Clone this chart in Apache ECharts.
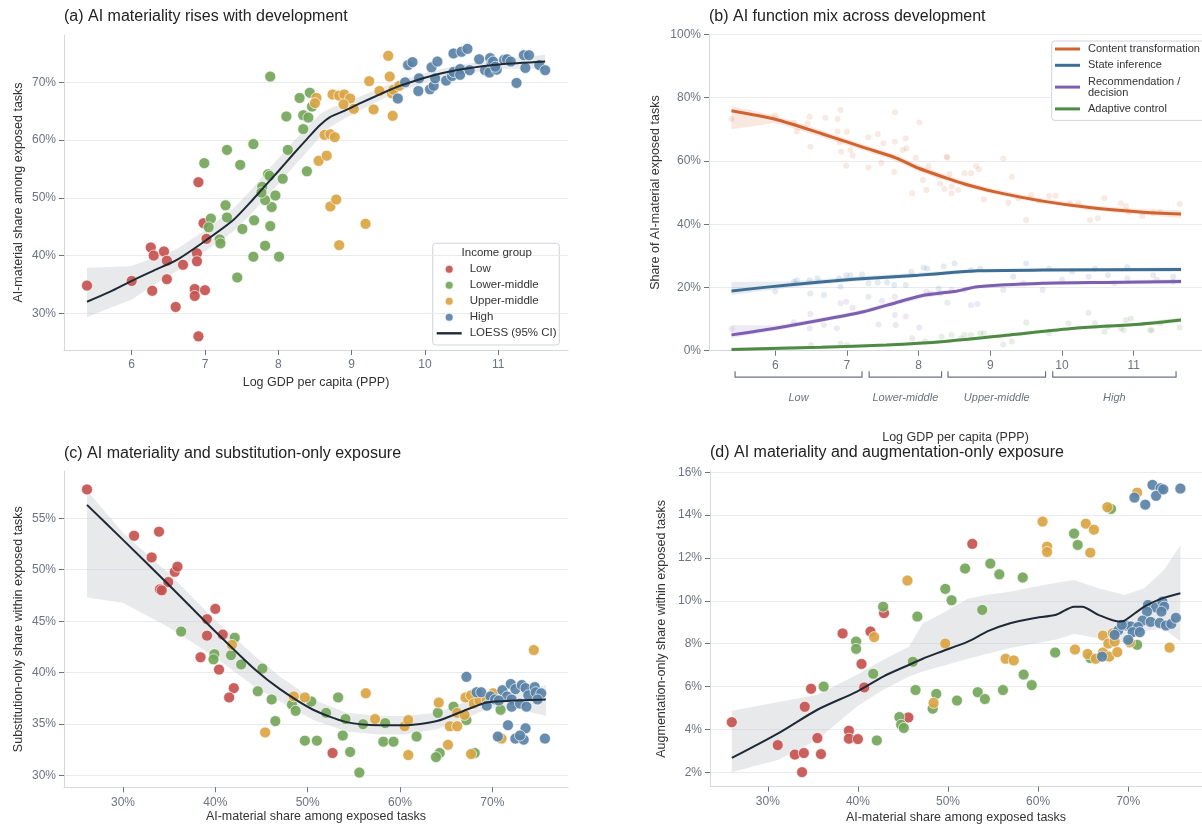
<!DOCTYPE html>
<html><head><meta charset="utf-8">
<script src="https://cdn.jsdelivr.net/npm/echarts@6/dist/echarts.min.js"></script>
<style>html,body{margin:0;padding:0;background:#fff}#c{width:1202px;height:827px}</style>
</head><body><div id="c"></div>
<script>
// ---------- DATA ----------
const groups = ['Low','Lower-middle','Upper-middle','High'];
// Panel (a): [log GDP pc, AI-material share %]
const aLow = [[5.39,34.8],[6.0,35.6],[6.26,41.4],[6.30,40.0],[6.44,40.7],[6.48,39.1],[6.28,33.9],[6.48,35.9],[6.60,31.1],[6.70,38.4],[6.89,40.4],[6.89,39.0],[6.86,34.2],[6.86,33.0],[7.0,34.0],[6.91,26.0],[6.98,45.6],[7.02,42.9],[6.91,52.7]];
const aLM = [[7.08,46.4],[7.05,44.9],[7.28,48.7],[7.30,46.6],[7.20,42.8],[7.21,42.1],[7.51,44.6],[7.67,46.1],[7.44,36.2],[7.66,39.8],[7.82,41.7],[7.89,45.1],[7.91,48.4],[7.82,49.6],[8.01,39.8],[7.89,71.0],[6.99,56.0],[7.30,58.3],[7.48,55.7],[7.66,59.3],[7.86,54.1],[7.88,53.8],[7.78,51.9],[7.77,50.9],[7.96,50.4],[8.06,53.3],[8.13,58.3],[8.39,54.6],[8.11,64.1],[8.34,61.9],[8.29,67.3],[8.43,68.2],[8.46,65.8],[8.34,64.3],[8.41,63.9]];
const aUM = [[8.52,67.3],[8.50,66.4],[8.74,67.9],[8.83,67.7],[8.90,67.9],[8.98,67.2],[8.89,66.2],[9.03,65.4],[8.63,60.9],[8.71,61.0],[8.77,60.5],[8.55,56.4],[8.66,57.3],[8.71,48.5],[8.79,49.7],[9.50,74.6],[9.52,71.0],[9.24,70.2],[9.38,68.5],[9.30,65.3],[9.56,64.2],[9.55,68.1],[9.57,68.7],[9.65,69.4],[8.83,41.8],[9.19,45.5]];
const aHigh = [[9.63,67.2],[9.73,70.0],[9.77,73.0],[9.83,73.5],[9.91,68.5],[9.92,70.7],[10.07,68.8],[10.12,69.4],[10.14,70.7],[10.09,72.6],[10.17,73.6],[10.29,70.3],[10.37,71.1],[10.39,71.8],[10.48,72.3],[10.48,71.3],[10.39,75.0],[10.50,75.3],[10.58,75.8],[10.61,72.1],[10.74,74.0],[10.82,72.1],[10.89,74.2],[10.91,73.3],[10.93,73.6],[10.88,71.7],[10.98,72.2],[10.96,72.7],[11.08,73.9],[11.12,74.0],[11.17,73.6],[11.25,69.9],[11.35,74.7],[11.42,74.7],[11.37,72.5],[11.56,73.0],[11.64,72.1]];
const aFitX = [5.39,5.7,6.0,6.3,6.61,7.02,7.39,7.66,7.8,8.0,8.2,8.4,8.57,8.71,8.89,9.12,9.4,9.66,10.11,10.57,11.02,11.64];
const aFit  = [32.0,33.7,35.6,37.4,39.2,42.7,46.2,49.8,51.8,54.6,57.5,60.3,62.6,64.0,65.0,66.4,68.0,69.4,71.2,72.4,73.1,73.6];
const aLo   = [29.3,30.9,32.4,34.9,37.3,40.9,44.2,47.6,49.7,52.4,55.3,58.1,60.5,62.3,63.6,65.2,67.0,68.5,70.4,71.6,72.3,72.4];
const aHi   = [37.9,38.0,38.2,39.6,41.1,44.5,48.2,51.8,54.0,56.8,59.7,62.4,64.5,65.5,66.4,67.6,69.0,70.3,72.0,73.2,73.9,74.8];

// Panel (b): function shares (%) vs log GDP pc
const functions = ['Content transformation','State inference','Recommendation /\ndecision','Adaptive control'];
const bCtX = [5.39,6.0,6.64,7.23,7.68,8.0,8.4,8.64,9.05,9.73,10.41,11.09,11.66];
const bCt  = [75.9,73.2,68.7,64.3,61.0,57.7,54.5,52.7,50.3,47.3,45.2,43.9,43.2];
const bCtLo= [70.0,72.0,67.6,63.3,60.0,56.6,53.5,51.8,49.5,46.5,44.4,43.0,42.0];
const bCtHi= [77.4,74.4,69.8,65.3,62.0,58.8,55.5,53.6,51.1,48.1,46.0,44.8,44.4];
const bSiX = [5.39,6.18,7.09,8.0,8.46,8.82,9.73,11.66];
const bSi  = [18.9,20.8,22.6,23.9,24.7,25.3,25.5,25.7];
const bSiLo= [17.6,19.9,21.9,23.2,24.1,24.8,25.0,25.0];
const bSiHi= [21.8,21.9,23.4,24.7,25.3,25.8,26.0,26.4];
const bRdX = [5.39,6.0,6.64,7.23,7.73,8.09,8.36,8.5,8.82,9.73,10.64,11.66];
const bRd  = [5.0,7.1,9.7,12.3,15.5,17.6,18.4,18.7,20.2,21.3,21.6,21.9];
const bRdLo= [4.0,6.3,9.0,11.6,14.7,16.8,17.7,18.1,19.6,20.7,21.0,21.1];
const bRdHi= [8.1,8.0,10.4,13.0,16.3,18.4,19.1,19.3,20.8,21.9,22.2,22.7];
const bAcX = [5.39,6.64,7.55,8.36,9.27,10.18,11.09,11.66];
const bAc  = [0.4,1.1,1.8,2.9,5.0,7.1,8.4,9.7];
const bAcLo= [0.0,0.6,1.3,2.4,4.5,6.6,7.8,8.9];
const bAcHi= [0.9,1.6,2.3,3.4,5.5,7.6,9.0,10.5];
const bCtPts = [[5.39,73.3],[6.0,74.4],[6.26,72.1],[6.30,69.3],[6.45,71.9],[6.48,74.0],[6.49,64.5],[6.70,73.7],[6.87,73.3],[6.91,76.1],[6.87,69.3],[7.0,69.3],[6.90,65.9],[6.92,62.9],[6.99,58.5],[7.05,63.5],[7.08,61.7],[7.30,67.5],[7.30,57.9],[7.43,68.5],[7.48,59.4],[7.51,65.6],[7.67,75.4],[7.67,66.1],[7.66,56.6],[7.78,63.5],[7.82,67.2],[7.83,64.0],[7.91,49.8],[7.96,61.0],[8.01,72.2],[8.06,54.0],[8.11,50.8],[8.14,58.4],[8.30,52.9],[8.36,51.1],[8.40,61.1],[8.43,55.9],[8.46,49.8],[8.39,61.3],[8.46,51.9],[8.55,50.8],[8.64,56.1],[8.73,56.1],[8.80,58.4],[8.84,57.4],[8.91,47.9],[9.18,60.8],[9.25,46.8],[9.30,55.0],[9.39,48.2],[9.50,41.3],[9.57,49.2],[9.68,47.4],[9.82,48.9],[9.91,49.0],[10.11,46.6],[10.23,46.6],[10.39,41.3],[10.50,41.9],[10.59,48.2],[10.82,46.6],[10.89,45.7],[10.93,43.9],[11.12,42.6],[11.27,43.6],[11.37,43.9],[11.64,46.4]];
const bSiPts = [[6.0,18.7],[6.26,21.8],[6.30,22.3],[6.48,22.3],[6.49,18.1],[6.59,22.9],[6.68,17.6],[6.89,22.9],[6.91,20.2],[6.99,23.9],[7.05,23.9],[7.21,24.1],[7.30,21.3],[7.30,17.1],[7.43,21.6],[7.56,21.6],[7.66,20.8],[7.82,20.8],[7.90,25.0],[8.07,26.2],[8.12,26.0],[8.28,19.7],[8.35,26.6],[8.50,27.6],[8.73,25.5],[8.86,26.0],[9.32,23.4],[9.50,27.6],[9.82,26.0],[10.14,25.0],[10.46,26.0],[10.64,23.9],[10.91,26.4],[11.27,23.9],[11.55,23.4]];
const bRdPts = [[5.39,6.9],[6.26,9.0],[6.49,11.6],[6.48,7.1],[6.68,8.1],[6.86,7.1],[6.91,15.0],[6.99,15.5],[7.08,13.6],[7.44,8.3],[7.49,15.8],[7.67,17.1],[7.67,11.3],[7.68,8.1],[7.82,10.8],[8.01,7.3],[8.11,18.7],[8.17,18.1],[8.30,18.1],[8.40,15.2],[8.46,19.2],[8.64,19.2],[8.73,14.4],[8.82,14.8],[9.18,19.2],[9.46,21.3],[9.73,19.2],[10.0,22.4],[10.37,23.4],[10.73,21.3],[10.91,22.9],[11.32,22.4],[11.55,21.8]];
const bAcPts = [[6.5,1.8],[6.91,2.3],[7.0,1.8],[7.91,3.9],[8.09,2.9],[8.32,4.4],[8.46,5.0],[8.59,3.9],[8.73,5.0],[8.86,5.5],[8.64,5.0],[8.91,5.5],[9.18,2.0],[9.30,2.9],[9.50,8.9],[9.82,5.5],[10.09,8.7],[10.37,12.0],[10.46,8.7],[10.59,6.0],[10.64,7.6],[10.82,7.1],[10.86,6.5],[10.89,9.7],[10.96,10.2],[11.23,6.5],[11.25,6.5],[11.37,8.7],[11.64,7.3]];
// income-group brackets under panel (b) x axis
const bracketFrom = [5.44,7.31,8.41,9.87];
const bracketTo   = [7.21,8.32,9.77,11.59];

// Panel (c): [AI-material share %, substitution-only share %]
const cLow = [[26.1,57.8],[31.2,53.3],[33.9,53.7],[33.1,51.2],[35.6,49.8],[35.9,50.3],[34.9,48.8],[34.0,48.1],[34.2,48.0],[40.0,46.2],[39.1,45.2],[39.1,43.6],[40.8,43.7],[38.4,41.5],[40.4,40.3],[42.0,38.5],[41.5,37.6],[52.7,32.2]];
const cLM = [[36.3,44.0],[42.1,43.4],[39.9,41.8],[39.8,41.3],[41.7,41.7],[42.8,40.8],[45.1,40.4],[44.6,38.2],[46.1,37.4],[46.5,35.3],[50.4,37.2],[48.3,36.9],[48.7,36.3],[52.0,36.1],[53.3,37.6],[54.1,35.5],[56.0,35.0],[58.4,35.1],[61.8,33.8],[49.7,33.4],[51.0,33.4],[53.8,33.9],[54.6,32.3],[55.6,30.3],[58.2,33.3],[59.3,33.3],[64.1,36.1],[65.8,36.7],[64.3,32.2],[63.9,31.8],[68.1,32.2],[67.2,35.4],[70.9,36.4]];
const cUM = [[41.8,42.7],[45.4,34.2],[48.5,37.7],[49.7,37.6],[56.3,38.0],[57.3,35.5],[60.5,34.8],[60.9,35.4],[60.9,32.0],[64.2,37.1],[66.2,36.1],[65.4,34.8],[66.2,34.8],[65.2,33.0],[67.7,32.1],[67.1,37.6],[67.0,35.9],[67.7,37.8],[68.0,37.0],[68.6,37.3],[70.1,38.0],[71.0,33.6],[74.5,42.2],[69.4,37.4]];
const cHigh = [[67.2,39.6],[68.3,38.1],[68.8,38.1],[69.8,37.7],[69.4,36.8],[70.3,37.4],[71.1,38.3],[71.6,37.7],[72.0,38.9],[72.5,38.4],[72.1,37.4],[72.1,36.7],[73.0,37.0],[73.2,38.8],[73.6,38.5],[73.9,37.8],[73.7,36.7],[74.6,38.6],[74.7,38.1],[75.3,38.0],[74.9,37.4],[70.7,37.3],[71.7,34.9],[70.6,33.8],[72.5,33.6],[73.4,33.5],[73.6,34.6],[73.0,33.9],[75.7,33.6]];
const cFitX = [26.1,30,35,40,44.3,47.0,50.6,54.2,57.8,60.4,64.0,67.2,69.4,72.3,75.8];
const cFit  = [56.3,52.9,48.5,44.0,40.3,38.4,36.4,35.2,34.9,34.9,35.3,36.4,37.1,37.3,37.4];
const cLo   = [47.3,46.8,44.4,41.5,38.6,37.2,35.4,34.3,34.0,34.0,34.5,35.6,36.5,36.6,35.8];
const cHi   = [57.7,53.6,49.6,45.1,41.6,39.6,37.4,36.1,35.8,35.8,36.1,37.2,37.8,38.0,38.8];

// Panel (d): [AI-material share %, augmentation-only share %]
const dLow = [[26.0,4.34],[31.1,3.27],[33.0,2.83],[34.0,2.90],[33.8,2.01],[34.1,5.06],[34.8,5.90],[35.5,3.60],[35.9,2.85],[39.0,3.94],[39.0,3.57],[40.0,3.55],[40.4,7.06],[40.7,5.96],[45.6,4.56],[38.3,8.48],[41.4,8.57],[42.9,9.43],[52.7,12.66]];
const dLM = [[36.2,6.00],[39.8,8.10],[39.8,7.76],[41.7,6.60],[42.1,3.49],[44.6,4.58],[44.8,4.22],[45.1,4.07],[46.1,7.16],[46.4,5.84],[48.7,5.66],[48.3,4.97],[51.0,5.35],[53.3,5.74],[54.1,5.42],[56.1,5.84],[58.4,6.56],[59.3,6.07],[61.9,7.59],[65.8,7.33],[71.0,7.95],[42.8,9.73],[46.6,9.27],[51.9,11.51],[54.7,11.74],[55.7,11.24],[58.3,11.09],[49.7,10.56],[50.4,10.03],[53.8,9.58],[64.0,13.14],[64.4,12.61],[68.1,14.29]];
const dUM = [[41.8,8.31],[45.5,10.95],[48.4,5.24],[49.7,8.01],[56.4,7.30],[57.3,7.22],[60.5,13.70],[61.0,12.53],[61.0,12.28],[65.3,13.60],[66.2,13.32],[65.8,12.25],[67.7,14.37],[71.0,15.05],[74.6,7.82],[64.1,7.73],[65.5,7.52],[66.4,7.30],[67.2,7.59],[67.9,7.40],[67.2,8.38],[67.8,8.01],[68.5,8.10],[68.8,7.61],[68.3,8.49],[70.2,8.06]];
const dHigh = [[70.7,14.82],[72.7,15.41],[73.6,15.25],[73.1,14.90],[71.9,14.49],[75.8,15.24],[67.1,7.40],[72.2,9.81],[73.1,9.69],[73.8,9.97],[74.0,9.73],[73.7,9.50],[72.1,9.50],[71.6,9.08],[72.5,9.02],[73.5,8.97],[74.2,8.85],[74.8,8.93],[75.3,9.21],[69.8,8.85],[70.3,8.81],[71.1,8.78],[70.5,8.54],[71.3,8.54],[68.9,8.62],[68.5,8.41],[70.0,8.18],[69.3,8.88],[73.9,15.2]];
const dFitX = [26.0,31.2,35.5,39.9,42.8,45.7,47.2,49.3,52.2,54.5,56.9,59.5,62.0,64.0,64.9,66.7,68.9,69.6,71.8,74.0,75.8];
const dFit  = [2.67,3.83,4.92,5.77,6.47,7.02,7.30,7.64,8.10,8.60,8.96,9.19,9.35,9.73,9.73,9.35,9.04,9.08,9.73,10.15,10.36];
const dLo   = [2.01,2.59,3.52,5.07,5.85,6.47,6.70,6.95,7.30,7.55,7.80,8.00,8.20,8.45,8.40,8.25,8.05,8.10,8.60,8.70,8.10];
const dHi   = [4.87,5.28,5.62,6.55,7.25,7.87,8.96,9.40,10.10,10.30,10.43,10.65,10.85,10.98,10.85,10.59,10.36,10.28,10.59,11.45,12.60];

// tick values
const ticksGdp = [6,7,8,9,10,11];
const ticksShareA = [30,40,50,60,70];
const ticksShareB = [0,20,40,60,80,100];
const ticksShareX = [30,40,50,60,70];
const ticksSub = [30,35,40,45,50,55];
const ticksAug = [2,4,6,8,10,12,14,16];

// ---------- STYLE ----------
const FONT = "'Liberation Sans', Arial, sans-serif";
const groupColors = ['#c4534f','#74a65a','#d9a443','#5a82a6'];
const funcColors = ['#d0632f','#3f6e94','#7d5fb0','#4f8a45'];
const funcBand = ['rgba(208,99,47,0.15)','rgba(63,110,148,0.13)','rgba(125,95,176,0.13)','rgba(79,138,69,0.13)'];
const fitColor = '#1f2a37';
const bandGray = 'rgba(200,203,207,0.42)';
const labelColor = '#6b7280';
const nameColor = '#333';
const lineIcon3 = 'path://M0,0 L25,0 L25,3 L0,3 Z';
const lineIcon2 = 'path://M0,0 L25,0 L25,2.4 L0,2.4 Z';

function pairs(xs, ys){ return xs.map((x,i)=>[x, ys[i]]); }

function xAxis(idx, min, max, ticks, name, fmt, gap){
  return {gridIndex: idx, type:'value', min, max, name, nameLocation:'middle', nameGap: gap,
    nameTextStyle:{color:nameColor, fontSize:12.5, fontFamily:FONT},
    axisLine:{show:true, lineStyle:{color:'#d5d9de'}},
    axisTick:{show:true, customValues: ticks, length:5, lineStyle:{color:'#6b7280'}},
    axisLabel:{customValues: ticks, color:labelColor, fontSize:12, fontFamily:FONT, margin:9, formatter: fmt},
    splitLine:{show:false}};
}
function yAxis(idx, min, max, ticks, name, gap){
  return {gridIndex: idx, type:'value', min, max, name, nameLocation:'middle', nameGap: gap,
    nameTextStyle:{color:nameColor, fontSize:12.5, fontFamily:FONT},
    axisLine:{show:true, lineStyle:{color:'#d5d9de'}},
    axisTick:{show:true, customValues: ticks, length:5, lineStyle:{color:'#6b7280'}},
    axisLabel:{customValues: ticks, color:labelColor, fontSize:12, fontFamily:FONT, margin:8, formatter: v=>v+'%'},
    splitLine:{show:true, lineStyle:{color:'#e8eaee', width:1}}};
}
function band(idx, xs, lo, hi, color){
  return {type:'custom', xAxisIndex:idx, yAxisIndex:idx, silent:true, z:1, clip:true,
    data:[[xs[0], lo[0]]],
    renderItem:(p, api)=>{
      const pts=[];
      for(let i=0;i<xs.length;i++) pts.push(api.coord([xs[i], hi[i]]));
      for(let i=xs.length-1;i>=0;i--) pts.push(api.coord([xs[i], lo[i]]));
      return {type:'polygon', shape:{points:pts}, style:{fill:color}};
    }};
}
function scatter(idx, name, data, color){
  return {type:'scatter', name, xAxisIndex:idx, yAxisIndex:idx, data, symbolSize:11, z:2,
    itemStyle:{color, opacity:0.92, borderColor:'rgba(255,255,255,0.9)', borderWidth:0.8}};
}
function fit(idx, name, data, color, w){
  return {type:'line', name, xAxisIndex:idx, yAxisIndex:idx, data, symbol:'none', showSymbol:false,
    smooth:0.25, z:3, lineStyle:{color, width:w}, itemStyle:{color}};
}

const series = [];
// (a)
series.push(band(0, aFitX, aLo, aHi, bandGray));
[aLow,aLM,aUM,aHigh].forEach((d,i)=>series.push(scatter(0, groups[i], d, groupColors[i])));
series.push(fit(0, 'LOESS (95% CI)', pairs(aFitX, aFit), fitColor, 2));
// (b)
const bX=[bCtX,bSiX,bRdX,bAcX], bY=[bCt,bSi,bRd,bAc], bL=[bCtLo,bSiLo,bRdLo,bAcLo], bH=[bCtHi,bSiHi,bRdHi,bAcHi];
const bP=[bCtPts,bSiPts,bRdPts,bAcPts];
for(let i=0;i<4;i++) series.push(fit(1, functions[i], pairs(bX[i], bY[i]), funcColors[i], 3));
for(let i=0;i<4;i++) series.push(band(1, bX[i], bL[i], bH[i], funcBand[i]));
for(let i=0;i<4;i++) series.push({type:'scatter', name:'pts'+i, xAxisIndex:1, yAxisIndex:1, data:bP[i], symbolSize:6, z:1,
  itemStyle:{color:funcColors[i], opacity:0.14}});
series.push({type:'custom', xAxisIndex:1, yAxisIndex:1, silent:true, clip:false, z:5,
  data: bracketFrom.map((f,i)=>[f, bracketTo[i], i]),
  renderItem:(p, api)=>{
    const i = p.dataIndex;
    const a = api.coord([bracketFrom[i], 0]), b = api.coord([bracketTo[i], 0]);
    const y = a[1] + 26.5;
    return {type:'group', children:[
      {type:'polyline', shape:{points:[[a[0], y-6],[a[0], y],[b[0], y],[b[0], y-6]]}, style:{stroke:'#6b7280', lineWidth:1.2, fill:null}},
      {type:'text', style:{text: groups[i], x:(a[0]+b[0])/2, y:y+21, align:'center', verticalAlign:'middle',
        fill:'#6b7280', fontSize:11, fontStyle:'italic', fontFamily:FONT}}
    ]};
  }});
// (c)
series.push(band(2, cFitX, cLo, cHi, bandGray));
[cLow,cLM,cUM,cHigh].forEach((d,i)=>series.push(scatter(2, groups[i], d, groupColors[i])));
series.push(fit(2, 'LOESS (95% CI)', pairs(cFitX, cFit), fitColor, 2));
// (d)
series.push(band(3, dFitX, dLo, dHi, bandGray));
[dLow,dLM,dUM,dHigh].forEach((d,i)=>series.push(scatter(3, groups[i], d, groupColors[i])));
series.push(fit(3, 'LOESS (95% CI)', pairs(dFitX, dFit), fitColor, 2));

const titleStyle = {color:'#222', fontSize:16, fontWeight:'normal', fontFamily:FONT};
const option = {
  animation:false,
  backgroundColor:'#fff',
  title:[
    {text:'(a) AI materiality rises with development', left:64, top:9, padding:0, textStyle:titleStyle},
    {text:'(b) AI function mix across development', left:709, top:9, padding:0, textStyle:titleStyle},
    {text:'(c) AI materiality and substitution-only exposure', left:64, top:446, padding:0, textStyle:titleStyle},
    {text:'(d) AI materiality and augmentation-only exposure', left:710, top:445, padding:0, textStyle:titleStyle}
  ],
  grid:[
    {left:64, top:35, width:504, height:315},
    {left:709, top:34.5, width:504, height:316.2},
    {left:64, top:471, width:504, height:316.3},
    {left:710, top:471, width:502, height:315.7}
  ],
  xAxis:[
    xAxis(0, 5.0764, 11.952, ticksGdp, 'Log GDP per capita (PPP)', v=>v, 26),
    xAxis(1, 5.0764, 11.952, ticksGdp, 'Log GDP per capita (PPP)', v=>v, 80),
    xAxis(2, 23.61, 78.2, ticksShareX, 'AI-material share among exposed tasks', v=>v+'%', 23),
    xAxis(3, 23.58, 78.2, ticksShareX, 'AI-material share among exposed tasks', v=>v+'%', 24)
  ],
  yAxis:[
    yAxis(0, 23.64, 78.2, ticksShareA, 'AI-material share among exposed tasks', 39),
    yAxis(1, 0, 100, ticksShareB, 'Share of AI-material exposed tasks', 47),
    yAxis(2, 28.87, 59.59, ticksSub, 'Substitution-only share within exposed tasks', 39),
    yAxis(3, 1.33, 16.06, ticksAug, 'Augmentation-only share within exposed tasks', 42)
  ],
  legend:[
    {orient:'vertical', left:436.7, top:263.3, padding:0, itemWidth:25, itemHeight:9, itemGap:4,
     textStyle:{color:'#333', fontSize:11.5, fontFamily:FONT, padding:[0,0,0,3]},
     data:[{name:'Low',icon:'circle'},{name:'Lower-middle',icon:'circle'},{name:'Upper-middle',icon:'circle'},{name:'High',icon:'circle'},
           {name:'LOESS (95% CI)', icon:lineIcon2, symbolKeepAspect:true}]},
    {orient:'vertical', left:1051.7, top:41, itemWidth:25, itemHeight:11, itemGap:5.3, symbolKeepAspect:true,
     padding:[2.5,8,6,3.3], backgroundColor:'#fff', borderColor:'#cfd3d8', borderWidth:1, borderRadius:3,
     textStyle:{color:'#333', fontSize:11, lineHeight:11, fontFamily:FONT, padding:[0,0,0,3]},
     data: functions.map(n=>({name:n, icon:lineIcon3, symbolKeepAspect:true}))}
  ],
  graphic:[
    {type:'rect', shape:{x:432.7, y:243.3, width:126.6, height:101.7, r:3}, z:0,
     style:{fill:'#fff', stroke:'#cfd3d8', lineWidth:1}},
    {type:'text', z:1, x:496.7, y:253.3,
     style:{text:'Income group', align:'center', verticalAlign:'middle', fill:'#333', fontSize:11.5, fontFamily:FONT}}
  ],
  series
};
const chart = echarts.init(document.getElementById('c'), null, {renderer:'canvas'});
chart.setOption(option);
</script></body></html>
